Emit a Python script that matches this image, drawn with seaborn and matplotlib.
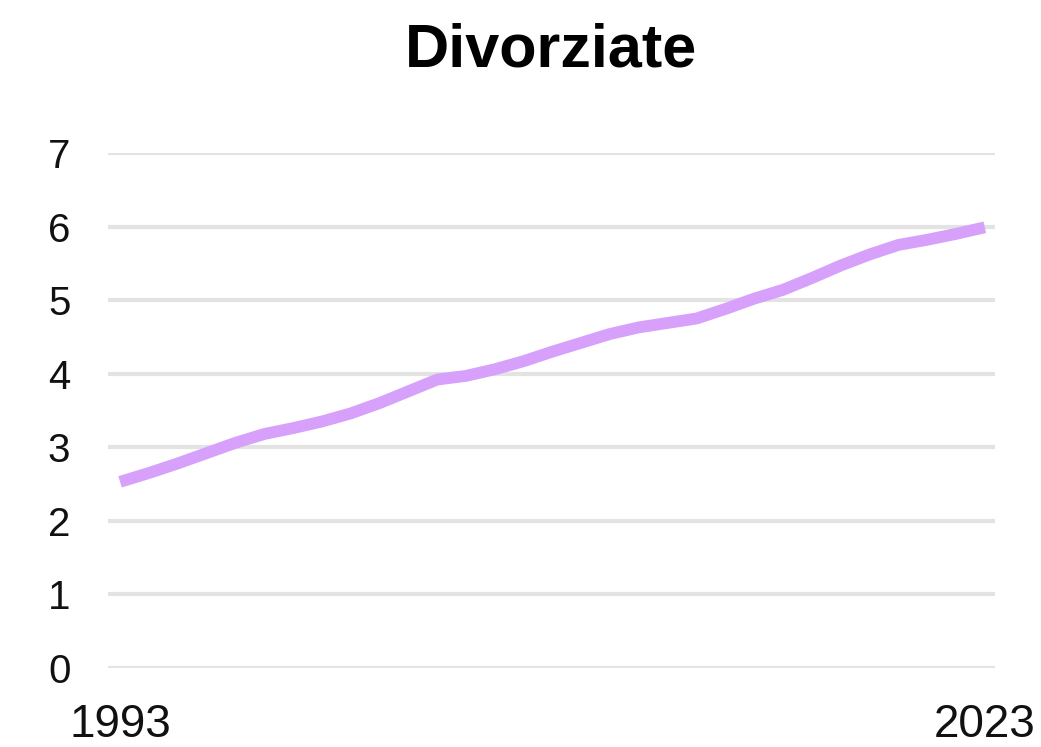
import numpy as np
import pandas as pd
import matplotlib
matplotlib.use('Agg')
import matplotlib.pyplot as plt
import seaborn as sns

years = list(range(1993, 2024))
divorziate = [2.53, 2.65, 2.78, 2.92, 3.06, 3.18, 3.26, 3.35, 3.46, 3.60,
              3.76, 3.92, 3.97, 4.06, 4.17, 4.30, 4.42, 4.54, 4.63, 4.69,
              4.75, 4.88, 5.02, 5.14, 5.30, 5.47, 5.62, 5.75, 5.82, 5.90,
              5.99]
y_ticks = [0, 1, 2, 3, 4, 5, 6, 7]
x_ticks = [1993, 2023]

df = pd.DataFrame({'anno': years, 'valore': divorziate})

sns.set_style('white')
plt.rcParams['font.family'] = ['Liberation Sans', 'DejaVu Sans']

fig = plt.figure(figsize=(10.41, 7.47), dpi=100)
ax = fig.add_axes([0.1037, 0.1058, 0.852, 0.6894])

sns.lineplot(data=df, x='anno', y='valore', ax=ax, color='#d6a0fb',
             linewidth=8.5, solid_capstyle='butt', zorder=3)

ax.set_xlim(1992.58, 2023.35)
ax.set_ylim(0, 7)
ax.set_yticks(y_ticks)
ax.set_xticks(x_ticks)
ax.grid(axis='y', color='#e3e3e3', linewidth=3)
ax.grid(axis='x', visible=False)
for s in ax.spines.values():
    s.set_visible(False)
# etichette
ax.tick_params(axis='y', length=0, pad=27, labelsize=29, labelcolor='#111111')
ax.tick_params(axis='x', length=0, pad=25, labelsize=33, labelcolor='#111111')
ax.set_xlabel('')
ax.set_ylabel('')
ax.set_title('Divorziate', fontsize=44, fontweight='bold', pad=62, color='black')

fig.savefig('out.png', dpi=100, facecolor='white')
